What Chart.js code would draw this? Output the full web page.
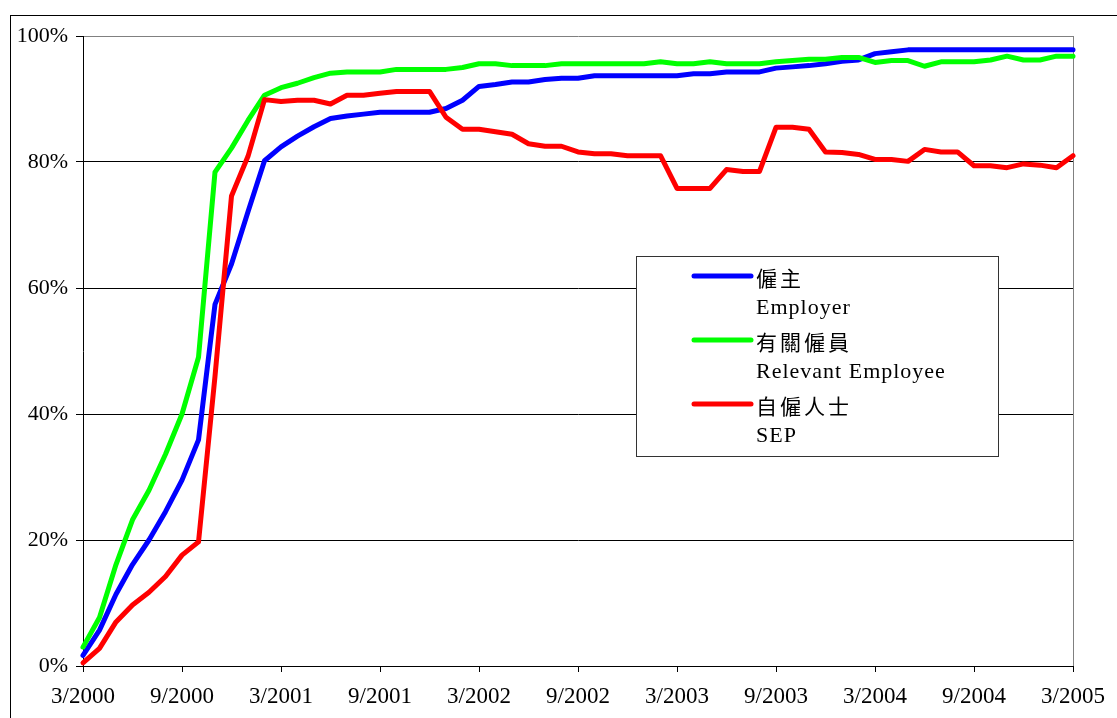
<!DOCTYPE html>
<html>
<head>
<meta charset="utf-8">
<script src="https://cdn.jsdelivr.net/npm/chart.js@4/dist/chart.umd.min.js"></script>
<style>
  html, body { margin: 0; padding: 0; background: #fff; }
  canvas { display: block; }
</style>
</head>
<body>
<canvas id="myChart" width="1117" height="718"></canvas>
<script>
// monthly categories, 3/2000 .. 3/2005
const months = [
  '3/2000','4/2000','5/2000','6/2000','7/2000','8/2000','9/2000','10/2000','11/2000','12/2000',
  '1/2001','2/2001','3/2001','4/2001','5/2001','6/2001','7/2001','8/2001','9/2001','10/2001','11/2001','12/2001',
  '1/2002','2/2002','3/2002','4/2002','5/2002','6/2002','7/2002','8/2002','9/2002','10/2002','11/2002','12/2002',
  '1/2003','2/2003','3/2003','4/2003','5/2003','6/2003','7/2003','8/2003','9/2003','10/2003','11/2003','12/2003',
  '1/2004','2/2004','3/2004','4/2004','5/2004','6/2004','7/2004','8/2004','9/2004','10/2004','11/2004','12/2004',
  '1/2005','2/2005','3/2005'
];
const tickLabels = ['3/2000','9/2000','3/2001','9/2001','3/2002','9/2002','3/2003','9/2003','3/2004','9/2004','3/2005'];
const yTicks = [0, 20, 40, 60, 80, 100];

// % values
const employer = [
  1.7, 5.7, 11.4, 16.1, 20.0, 24.5, 29.5, 35.9, 57.4, 63.8, 72.1, 80.2,
  82.4, 84.1, 85.6, 86.9, 87.3, 87.6, 87.9, 87.9, 87.9, 87.9, 88.5, 89.8,
  92.0, 92.3, 92.7, 92.7, 93.1, 93.3, 93.3, 93.7, 93.7, 93.7, 93.7, 93.7,
  93.7, 94.0, 94.0, 94.3, 94.3, 94.3, 94.9, 95.1, 95.3, 95.6, 96.0, 96.2,
  97.2, 97.5, 97.8, 97.8, 97.8, 97.8, 97.8, 97.8, 97.8, 97.8, 97.8, 97.8,
  97.8
];
const relevantEmployee = [
  3.0, 7.7, 16.1, 23.2, 27.9, 33.6, 40.0, 49.0, 78.4, 82.2, 86.6, 90.6,
  91.8, 92.5, 93.4, 94.1, 94.3, 94.3, 94.3, 94.7, 94.7, 94.7, 94.7, 95.0,
  95.6, 95.6, 95.3, 95.3, 95.3, 95.6, 95.6, 95.6, 95.6, 95.6, 95.6, 95.9,
  95.6, 95.6, 95.9, 95.6, 95.6, 95.6, 95.9, 96.1, 96.3, 96.3, 96.6, 96.6,
  95.8, 96.1, 96.1, 95.2, 95.9, 95.9, 95.9, 96.2, 96.8, 96.2, 96.2, 96.8,
  96.8
];
const sep = [
  0.5, 2.8, 7.0, 9.7, 11.7, 14.2, 17.6, 19.7, 46.0, 74.6, 80.9, 89.9,
  89.6, 89.8, 89.8, 89.2, 90.6, 90.6, 90.9, 91.2, 91.2, 91.2, 87.1, 85.2,
  85.2, 84.8, 84.4, 82.9, 82.5, 82.5, 81.6, 81.3, 81.3, 81.0, 81.0, 81.0,
  75.8, 75.8, 75.8, 78.8, 78.5, 78.5, 85.5, 85.5, 85.2, 81.6, 81.5, 81.2,
  80.4, 80.4, 80.1, 82.0, 81.6, 81.6, 79.4, 79.4, 79.1, 79.7, 79.5, 79.1,
  81.0
];

const namesZh = ['僱主', '有關僱員', '自僱人士'];
const namesEn = ['Employer', 'Relevant Employee', 'SEP'];
const colors = ['#0000ff', '#00ff00', '#ff0000'];

const serif = "'Liberation Serif', 'Times New Roman', serif";

// white page + outer frame
const framePlugin = {
  id: 'frame',
  beforeDraw(chart) {
    const c = chart.ctx;
    c.save();
    c.fillStyle = '#fff';
    c.fillRect(0, 0, chart.width, chart.height);
    c.strokeStyle = '#000';
    c.lineWidth = 1;
    c.strokeRect(10.5, 15.5, 1300, 900);
    c.restore();
  }
};

// boxed legend with two-line labels
const boxLegend = {
  id: 'boxLegend',
  afterDraw(chart) {
    const c = chart.ctx;
    c.save();
    c.fillStyle = '#fff';
    c.fillRect(636, 256, 362, 200);
    c.strokeStyle = '#333';
    c.lineWidth = 1;
    c.strokeRect(636.5, 256.5, 362, 200);
    chart.data.datasets.forEach((ds, k) => {
      const y0 = 276 + k * 64;
      c.strokeStyle = ds.borderColor;
      c.lineWidth = 5;
      c.lineCap = 'round';
      c.beginPath();
      c.moveTo(694, y0);
      c.lineTo(751, y0);
      c.stroke();
      c.fillStyle = '#000';
      c.textAlign = 'left';
      c.textBaseline = 'middle';
      c.font = "21px 'Noto Sans CJK TC'";
      c.letterSpacing = '3px';
      c.fillText(namesZh[k], 756, y0 + 2);
      c.textBaseline = 'alphabetic';
      c.font = '22px ' + serif;
      c.letterSpacing = '1px';
      c.fillText(namesEn[k], 756, y0 + 38);
    });
    c.letterSpacing = '0px';
    c.restore();
  }
};

const ctx = document.getElementById('myChart').getContext('2d');
const myChart = new Chart(ctx, {
  type: 'line',
  data: {
    labels: months,
    datasets: [
      { label: namesZh[0] + ' ' + namesEn[0], data: employer, borderColor: colors[0], backgroundColor: colors[0], order: 2 },
      { label: namesZh[1] + ' ' + namesEn[1], data: relevantEmployee, borderColor: colors[1], backgroundColor: colors[1], order: 1 },
      { label: namesZh[2] + ' ' + namesEn[2], data: sep, borderColor: colors[2], backgroundColor: colors[2], order: 0 }
    ]
  },
  options: {
    responsive: false,
    animation: false,
    devicePixelRatio: 1,
    layout: { padding: { top: 36, right: 44, left: 0, bottom: 0 } },
    plugins: {
      legend: { display: false },
      tooltip: { enabled: false }
    },
    elements: {
      point: { radius: 0 },
      line: { borderWidth: 5, tension: 0, borderJoinStyle: 'round', borderCapStyle: 'round' }
    },
    datasets: { line: { clip: false } },
    scales: {
      x: {
        type: 'category',
        offset: false,
        afterBuildTicks: (s) => {
          s.ticks = s.ticks.filter(t => tickLabels.includes(months[t.value]));
        },
        afterFit: (s) => { s.height = 52; },
        ticks: {
          autoSkip: false,
          maxRotation: 0,
          color: '#000',
          padding: 11,
          font: { family: serif, size: 23 },
          callback: (v) => months[v]
        },
        grid: {
          drawOnChartArea: true,
          color: (c) => (c.tick && months[c.tick.value] === tickLabels[tickLabels.length - 1]) ? '#808080' : 'rgba(0,0,0,0)',
          tickColor: '#000',
          tickLength: 6,
          lineWidth: 1
        },
        border: { color: '#000', width: 1 }
      },
      y: {
        min: yTicks[0],
        max: yTicks[yTicks.length - 1],
        afterFit: (s) => { s.width = 83; },
        ticks: {
          stepSize: 20,
          color: '#000',
          padding: 8,
          font: { family: serif, size: 22 },
          callback: (v) => v + '%'
        },
        grid: {
          color: (c) => (c.tick && c.tick.value === 100) ? '#808080' : '#000',
          tickColor: '#000',
          tickLength: 7,
          lineWidth: 1
        },
        border: { color: '#000', width: 1 }
      }
    }
  },
  plugins: [framePlugin, boxLegend]
});
</script>
</body>
</html>
